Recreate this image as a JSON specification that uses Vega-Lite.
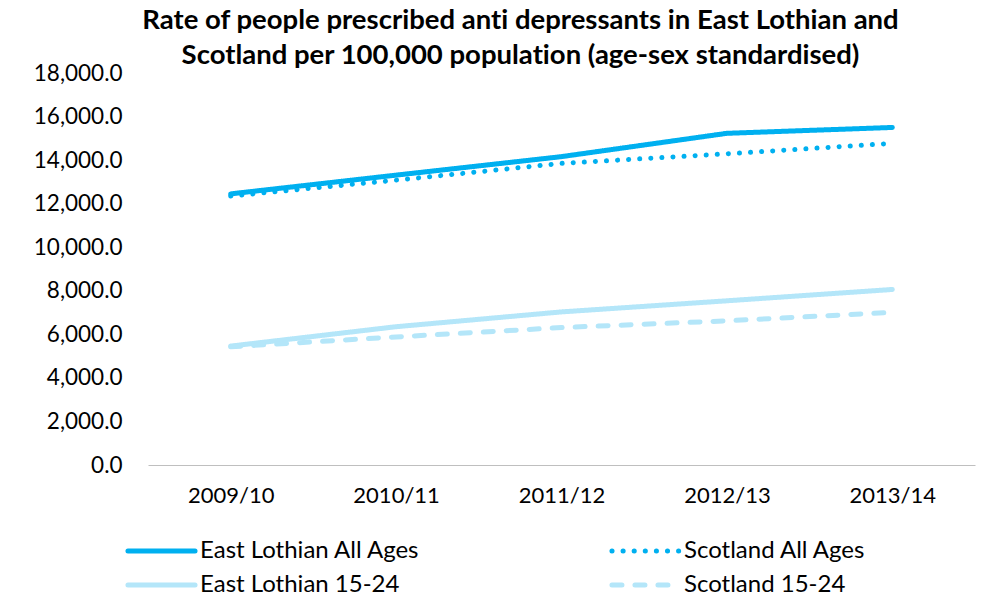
{
  "$schema": "https://vega.github.io/schema/vega-lite/v6.json",
  "autosize": {"type": "none"},
  "width": 827,
  "height": 392,
  "padding": {"left": 148, "top": 73, "right": 7, "bottom": 133},
  "background": "white",
  "config": {
    "view": {"stroke": null},
    "font": "Lato",
    "text": {"font": "Lato"}
  },
  "title": {
    "text": ["Rate of people prescribed ant\u200ci depressants in East Lothian and", "Scotland per 100,000 populat\u200cion (age-sex standardised)"],
    "font": "Lato",
    "fontSize": 27.5,
    "fontWeight": "bold",
    "color": "#000000",
    "anchor": "middle",
    "dx": -41,
    "dy": 11,
    "offset": 4,
    "lineHeight": 35
  },
  "data": {
    "values": [
      {"year": "2009/10", "series": "East Lothian All Ages", "rate": 12450},
      {"year": "2010/11", "series": "East Lothian All Ages", "rate": 13310},
      {"year": "2011/12", "series": "East Lothian All Ages", "rate": 14160},
      {"year": "2012/13", "series": "East Lothian All Ages", "rate": 15230},
      {"year": "2013/14", "series": "East Lothian All Ages", "rate": 15500},
      {"year": "2009/10", "series": "Scotland All Ages", "rate": 12350},
      {"year": "2010/11", "series": "Scotland All Ages", "rate": 13080},
      {"year": "2011/12", "series": "Scotland All Ages", "rate": 13850},
      {"year": "2012/13", "series": "Scotland All Ages", "rate": 14290},
      {"year": "2013/14", "series": "Scotland All Ages", "rate": 14770},
      {"year": "2009/10", "series": "East Lothian 15-24", "rate": 5460},
      {"year": "2010/11", "series": "East Lothian 15-24", "rate": 6350},
      {"year": "2011/12", "series": "East Lothian 15-24", "rate": 7030},
      {"year": "2012/13", "series": "East Lothian 15-24", "rate": 7540},
      {"year": "2013/14", "series": "East Lothian 15-24", "rate": 8060},
      {"year": "2009/10", "series": "Scotland 15-24", "rate": 5430},
      {"year": "2010/11", "series": "Scotland 15-24", "rate": 5880},
      {"year": "2011/12", "series": "Scotland 15-24", "rate": 6310},
      {"year": "2012/13", "series": "Scotland 15-24", "rate": 6620},
      {"year": "2013/14", "series": "Scotland 15-24", "rate": 7010}
    ]
  },
  "mark": {"type": "line", "strokeWidth": 5, "strokeCap": "round", "strokeJoin": "round"},
  "encoding": {
    "x": {
      "field": "year",
      "type": "ordinal",
      "scale": {"type": "point", "padding": 0.5},
      "axis": {
        "title": null,
        "labelAngle": 0,
        "labelFont": "Lato",
        "labelFontSize": 22,
        "labelColor": "#000000",
        "labelPadding": 20,
        "ticks": false,
        "domainColor": "#bfbfbf",
        "domainWidth": 1.2,
        "grid": false
      }
    },
    "y": {
      "field": "rate",
      "type": "quantitative",
      "scale": {"domain": [0, 18000], "nice": false},
      "axis": {
        "title": null,
        "values": [0, 2000, 4000, 6000, 8000, 10000, 12000, 14000, 16000, 18000],
        "format": ",.1f",
        "labelFont": "Lato",
        "labelFontSize": 22.5,
        "labelColor": "#000000",
        "labelPadding": 26,
        "ticks": false,
        "domain": false,
        "grid": false
      }
    },
    "color": {
      "field": "series",
      "type": "nominal",
      "scale": {
        "domain": ["East Lothian All Ages", "Scotland All Ages", "East Lothian 15-24", "Scotland 15-24"],
        "range": ["#00b0f0", "#00b0f0", "#b4e6f9", "#b4e6f9"]
      },
      "legend": {
        "title": null,
        "orient": "none",
        "legendX": -23,
        "legendY": 464,
        "direction": "horizontal",
        "columns": 2,
        "columnPadding": 188,
        "rowPadding": 6,
        "clipHeight": 28,
        "symbolType": "stroke",
        "symbolSize": 4500,
        "symbolStrokeWidth": 5,
        "labelFont": "Lato",
        "labelFontSize": 24,
        "labelColor": "#000000",
        "labelOffset": 2,
        "labelLimit": 400,
        "encode": {"symbols": {"update": {"strokeCap": {"value": "round"}}}}
      }
    },
    "strokeDash": {
      "field": "series",
      "type": "nominal",
      "scale": {
        "domain": ["East Lothian All Ages", "Scotland All Ages", "East Lothian 15-24", "Scotland 15-24"],
        "range": [[1, 0], [0.1, 11], [1, 0], [10, 13]]
      },
      "legend": null
    },
    "order": {"field": "series"}
  }
}
